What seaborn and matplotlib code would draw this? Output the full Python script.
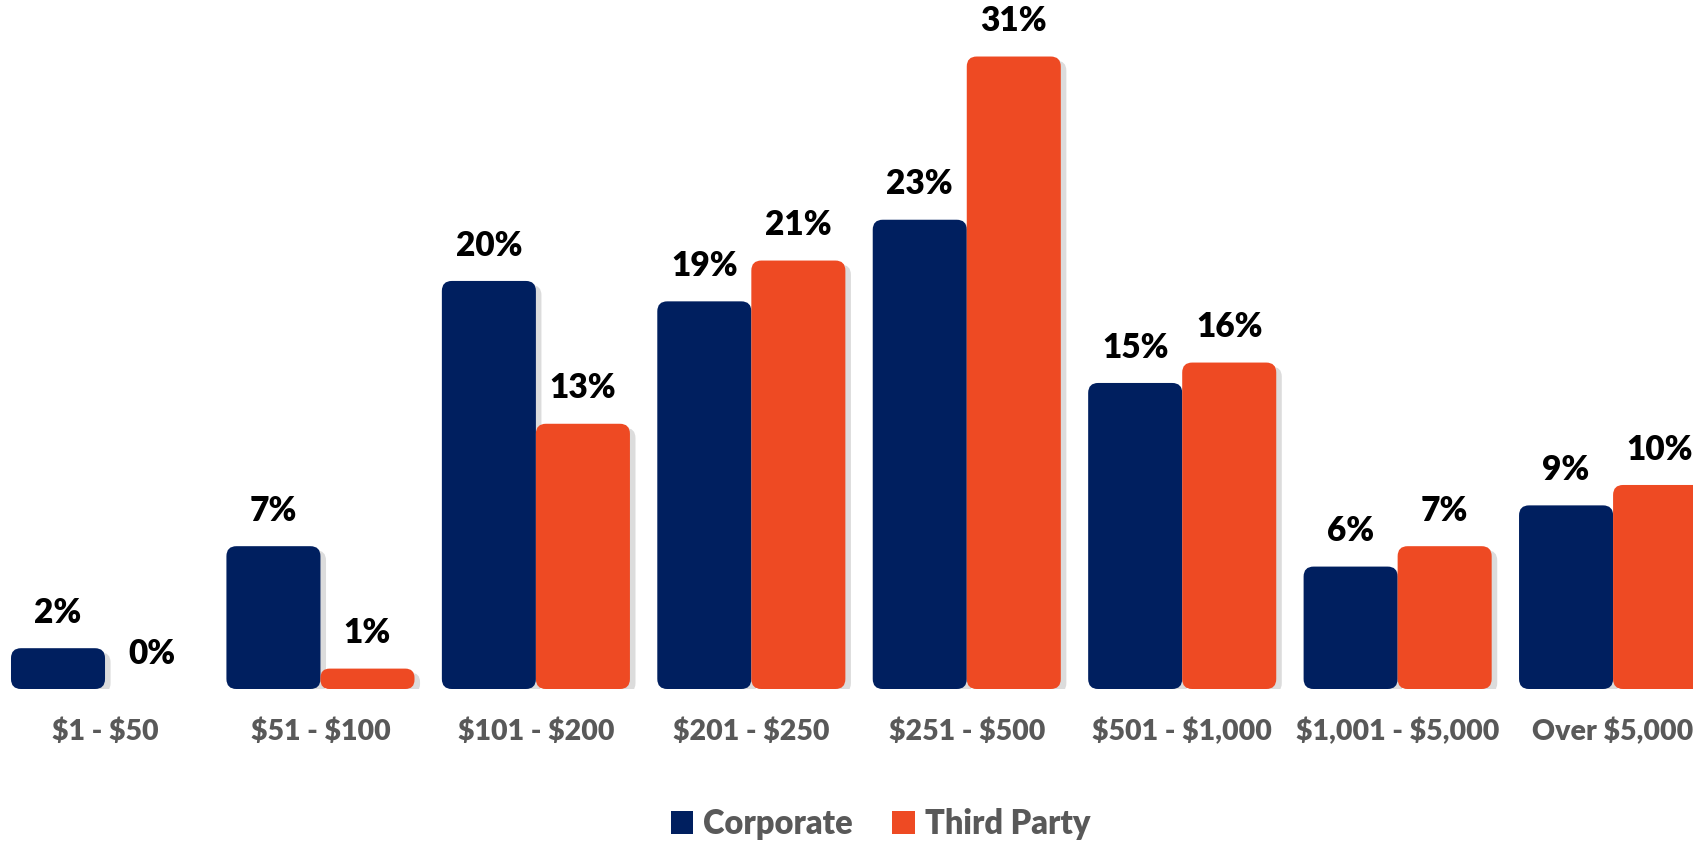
import matplotlib
matplotlib.use("Agg")
import matplotlib.pyplot as plt
import matplotlib.patheffects as pe
from matplotlib.patches import FancyBboxPatch, Patch
import pandas as pd
import seaborn as sns

# Spend ranges and share of responses (%) per channel
categories = ["$1 - $50", "$51 - $100", "$101 - $200", "$201 - $250",
              "$251 - $500", "$501 - $1,000", "$1,001 - $5,000", "Over $5,000"]
corporate = [2, 7, 20, 19, 23, 15, 6, 9]
third_party = [0, 1, 13, 21, 31, 16, 7, 10]
series_names = ["Corporate", "Third Party"]
colors = ["#001F5F", "#EE4A23"]

df = pd.DataFrame({
    "range": categories * 2,
    "share": corporate + third_party,
    "channel": [series_names[0]] * len(categories) + [series_names[1]] * len(categories),
})

sns.set_theme(style="white")
plt.rcParams["font.family"] = ["Lato", "DejaVu Sans"]
plt.rcParams["text.parse_math"] = False

W, H, DPI = 1693, 842, 100
fig = plt.figure(figsize=(W / DPI, H / DPI), dpi=DPI)
ax = fig.add_axes([0, 153 / H, 1, 1 - 153 / H])

sns.barplot(data=df, x="range", y="share", hue="channel", palette=colors,
            saturation=1, width=0.873, gap=0, ax=ax, legend=False, errorbar=None,
            order=categories, hue_order=series_names)

ax.set_xlim(-0.4875, 7.371)
ax.set_ylim(0, 33.77)

# Pixel scale of data units, used to make corner rounding isotropic
px_per_x = W / (7.371 + 0.4875)
px_per_y = (H - 153) / 33.77
radius_px = 10
aspect = px_per_x / px_per_y

shadow = [pe.SimplePatchShadow(offset=(4, -3), shadow_rgbFace="#8c8c8c", alpha=0.3),
          pe.Normal()]

for container, values in zip(ax.containers, [corporate, third_party]):
    for bar, v in zip(container, values):
        x, y = bar.get_x(), bar.get_y()
        w, h = bar.get_width(), bar.get_height()
        bar.set_visible(False)
        if h <= 0:
            continue
        r = min(radius_px / px_per_x, 0.45 * h * px_per_y / px_per_x)
        box = FancyBboxPatch((x, y), w, h,
                             boxstyle=f"round,pad=0,rounding_size={r}",
                             mutation_aspect=aspect,
                             facecolor=bar.get_facecolor(), edgecolor="none",
                             zorder=3)
        box.set_path_effects(shadow)
        ax.add_patch(box)
    ax.bar_label(container, labels=[f"{v}%" for v in values], padding=14,
                 fontsize=24, fontweight="heavy", color="black")

for s in ax.spines.values():
    s.set_visible(False)
ax.set_xlabel("")
ax.set_ylabel("")
ax.set_yticks([])
ax.tick_params(axis="x", length=0, pad=21, labelsize=20.5, labelcolor="#595959")
for t in ax.get_xticklabels():
    t.set_fontweight("heavy")

handles = [Patch(facecolor=c, edgecolor="none", label=n) for c, n in zip(colors, series_names)]
leg = fig.legend(handles=handles, loc="center", bbox_to_anchor=(0.52, 0.021), ncol=2,
                 frameon=False, fontsize=23.5, handlelength=0.7, handleheight=0.7,
                 handletextpad=0.3, columnspacing=1.2)
for t in leg.get_texts():
    t.set_color("#595959")
    t.set_fontweight("heavy")

fig.savefig("out.png", dpi=DPI)
